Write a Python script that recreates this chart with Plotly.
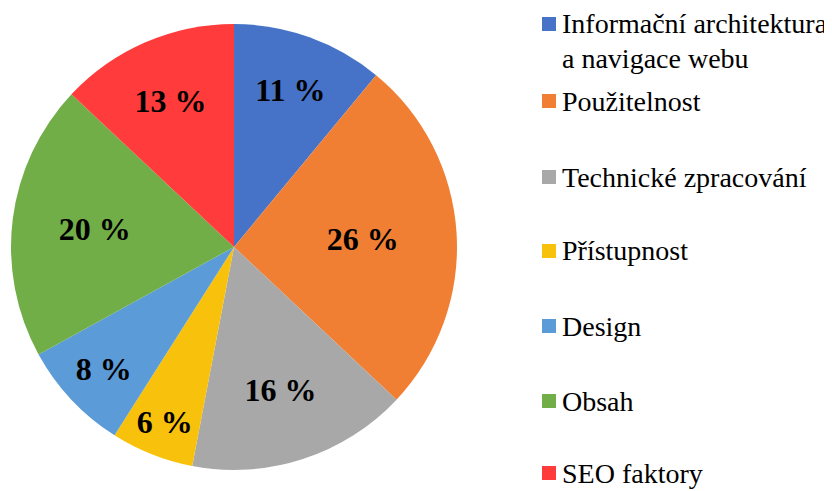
import plotly.graph_objects as go

categories = ["Informační architektura<br>a navigace webu", "Použitelnost", "Technické zpracování",
              "Přístupnost", "Design", "Obsah", "SEO faktory"]
values = [11, 26, 16, 6, 8, 20, 13]
colors = ["#4673C8", "#F07F33", "#A8A8A8", "#F8C20C", "#5A9BD8", "#72AE48", "#FF3B3B"]

# page has an 8px body margin; figure starts at window pixel (8, 8)
OFF = 8
W, H = 832 - OFF, 491 - OFF


def px(x):
    return (x - OFF) / W


def py(y):
    return 1 - (y - OFF) / H


fig = go.Figure()
fig.add_trace(go.Pie(
    labels=categories, values=values, sort=False, direction="clockwise", rotation=0,
    marker=dict(colors=colors, line=dict(width=0)),
    texttemplate="%{value} %", textposition="inside", insidetextorientation="horizontal",
    textfont=dict(family="Liberation Serif", size=32, color="black", weight="bold"),
    domain=dict(x=[px(11), px(457)], y=[py(470), py(24)]),
    showlegend=False, hoverinfo="label+percent",
))

# manual legend
row_y = [24, 101, 177, 251, 326, 401, 473]
line_gap = 34
for i, (lab, col) in enumerate(zip(categories, colors)):
    yc = row_y[i]
    fig.add_shape(type="rect", xref="paper", yref="paper",
                  x0=px(542), x1=px(556), y0=py(yc + 7), y1=py(yc - 7),
                  fillcolor=col, line=dict(width=0))
    for j, part in enumerate(lab.split("<br>")):
        fig.add_annotation(x=px(560), y=py(yc + j * line_gap), xref="paper", yref="paper",
                           text=part, showarrow=False, xanchor="left", yanchor="middle", align="left",
                           font=dict(family="Liberation Serif", size=28, color="black"))

fig.update_layout(width=W, height=H, margin=dict(l=0, r=0, t=0, b=0),
                  paper_bgcolor="white", plot_bgcolor="white",
                  uniformtext=dict(minsize=32, mode="show"))
fig.write_html("out.html")
